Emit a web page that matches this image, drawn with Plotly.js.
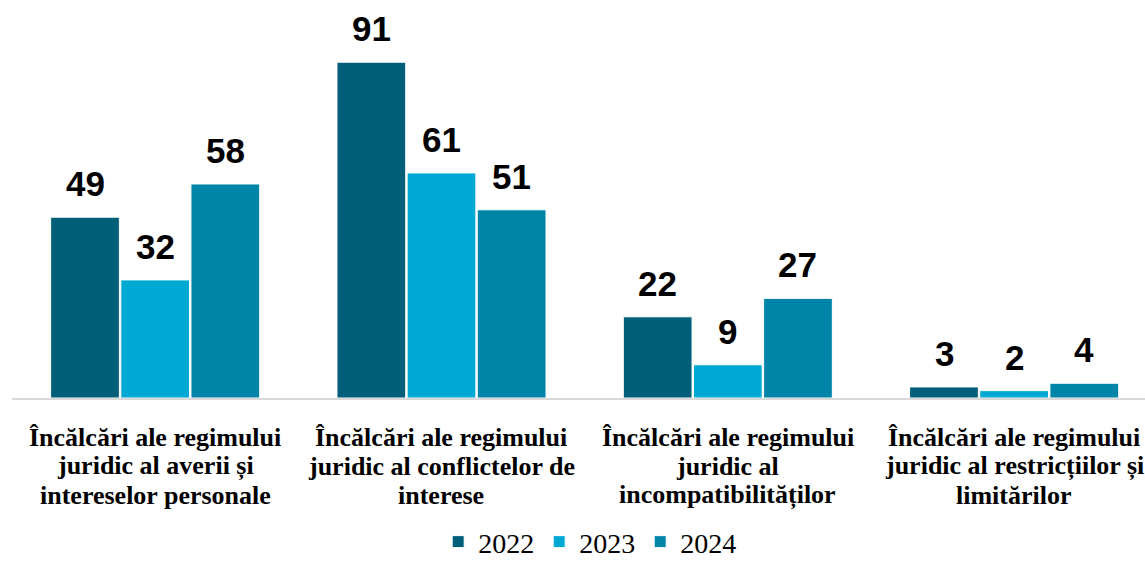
<!DOCTYPE html>
<html><head><meta charset="utf-8">
<script src="https://cdn.plot.ly/plotly-3.0.1.min.js"></script>
<style>html,body{margin:0;padding:0;background:#fff;}#chart{width:1145px;height:561px;}</style>
</head><body><div id="chart"></div>
<script>
const categories = [
  ["Încălcări ale regimului", "juridic al averii și", "intereselor personale"],
  ["Încălcări ale regimului", "juridic al conflictelor de", "interese"],
  ["Încălcări ale regimului", "juridic al", "incompatibilităților"],
  ["Încălcări ale regimului", "juridic al restricțiilor și", "limitărilor"]
];
const seriesNames = ["2022", "2023", "2024"];
const values2022 = [49, 91, 22, 3];
const values2023 = [32, 61, 9, 2];
const values2024 = [58, 51, 27, 4];
const colors = ["#005E78", "#00A9D4", "#0085A8"];

const SERIF = "Liberation Serif";
const SANS = "Liberation Sans";
const allValues = [values2022, values2023, values2024];
const xIdx = categories.map((c, k) => k);
const traces = allValues.map((vals, i) => ({
  type: "bar",
  name: seriesNames[i],
  x: xIdx,
  y: vals,
  marker: {color: colors[i], line: {color: "#ffffff", width: 1}},
  hoverinfo: "none"
}));

const bargap = 0.265, bargroupgap = 0.02;
const slot = (1 - bargap) / 3;
const annotations = [];
// value labels above bars
allValues.forEach((vals, s) => {
  vals.forEach((v, k) => {
    annotations.push({
      x: k + (s - 1) * slot, y: v, xref: "x", yref: "y",
      text: "<b>" + v + "</b>", showarrow: false,
      xanchor: "center", yanchor: "bottom", yshift: 12,
      font: {family: SANS, size: 35, color: "#000"}
    });
  });
});
// category labels, one annotation per line for tight line spacing
const lineCenters = [39, 68, 97]; // px below the axis line
categories.forEach((lines, k) => {
  lines.forEach((ln, j) => {
    annotations.push({
      x: k, y: 0, xref: "x", yref: "paper",
      text: "<b>" + ln + "</b>", showarrow: false,
      xanchor: "center", yanchor: "middle", yshift: -lineCenters[j],
      font: {family: SERIF, size: 26, color: "#000"}
    });
  });
});

const layout = {
  width: 1145, height: 561,
  margin: {l: 12, r: 0, t: 29, b: 163},
  paper_bgcolor: "#fff", plot_bgcolor: "#fff",
  font: {family: SERIF, color: "#000", size: 23},
  barmode: "group",
  bargap: bargap,
  bargroupgap: bargroupgap,
  showlegend: true,
  annotations: annotations,
  legend: {
    orientation: "h", xref: "container", x: 0.515, xanchor: "center",
    yref: "container", y: 0.034, yanchor: "middle",
    font: {family: SERIF, size: 28, color: "#000"},
    itemwidth: 30, tracegroupgap: 0
  },
  xaxis: {
    type: "linear",
    range: [-0.5, 3.457],
    showticklabels: false,
    showline: true, linecolor: "#d9d9d9", linewidth: 2,
    ticks: "", showgrid: false, zeroline: false,
    automargin: false
  },
  yaxis: {
    range: [0, 100], visible: false, showgrid: false, zeroline: false
  }
};
Plotly.newPlot("chart", traces, layout, {displayModeBar: false, staticPlot: true});
</script></body></html>
